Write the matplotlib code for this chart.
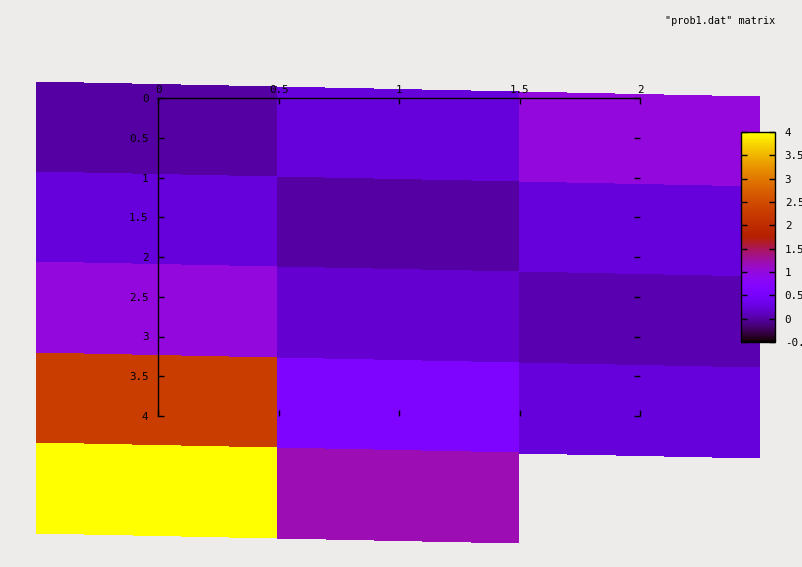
import numpy as np
import matplotlib
matplotlib.use("Agg")
import matplotlib.pyplot as plt
from matplotlib.colors import ListedColormap, Normalize

# ---- data ----
rows = [0, 1, 2, 3, 4]
cols = [0, 1, 2]
values = np.array([
    [0.0, 0.25, 1.0],
    [0.25, 0.0, 0.25],
    [1.0, 0.2, 0.05],
    [2.3, 0.6, 0.25],
    [4.0, 1.2, np.nan],
])
x_ticks = [0, 0.5, 1, 1.5, 2]
y_ticks = [0, 0.5, 1, 1.5, 2, 2.5, 3, 3.5, 4]
cb_ticks = [-0.5, 0, 0.5, 1, 1.5, 2, 2.5, 3, 3.5, 4]
cb_min, cb_max = -0.5, 4.0
key_label = '"prob1.dat" matrix'

# ---- style / layout ----
W, H = 802, 567
BG = "#edeceb"
FONT = "DejaVu Sans Mono"
FS = 7.8

# gnuplot default palette (rgbformulae 7,5,15)
t = np.linspace(0, 1, 256)
pal = np.stack([np.sqrt(t), t ** 3, np.clip(np.sin(2 * np.pi * t), 0, 1)], axis=1)
cmap = ListedColormap(pal)
norm = Normalize(cb_min, cb_max)

fig = plt.figure(figsize=(W / 100, H / 100), dpi=100, facecolor=BG)

# plot box in pixels
bx0, bx1, by0, by1 = 158, 640, 98, 416
ax = fig.add_axes([bx0 / W, 1 - by1 / H, (bx1 - bx0) / W, (by1 - by0) / H])
ax.set_facecolor("none")
ax.set_xlim(0, 2)
ax.set_ylim(4, 0)

# projected surface geometry (tilted view): pixel corners -> data coords
sx0, sy0 = 36.0, 82.0     # top-left corner of surface (px)
cw, rh, skew = 241.3, 90.2, 5.0   # cell width, row height, per-column drop (px)
ci = np.arange(len(cols) + 1)
ri = np.arange(len(rows) + 1)
CI, RI = np.meshgrid(ci, ri)
PX = sx0 + cw * CI
PY = sy0 + rh * RI + skew * CI
X = (PX - bx0) / (bx1 - bx0) * 2.0
Y = (PY - by0) / (by1 - by0) * 4.0
ax.pcolormesh(X, Y, np.ma.masked_invalid(values), cmap=cmap, norm=norm,
              shading="flat", clip_on=False, zorder=0, antialiased=False,
              edgecolors="none")

# axes border: top and left lines, ticks on all sides
for s in ["bottom", "right"]:
    ax.spines[s].set_visible(False)
for s in ["top", "left"]:
    ax.spines[s].set_color("black")
    ax.spines[s].set_linewidth(1.0)
ax.set_xticks(x_ticks)
ax.set_yticks(y_ticks)
ax.set_xticklabels([f"{v:g}" for v in x_ticks], fontfamily=FONT, fontsize=FS)
ax.set_yticklabels([f"{v:g}" for v in y_ticks], fontfamily=FONT, fontsize=FS)
ax.tick_params(axis="both", direction="in", length=4, width=1.0, color="black",
               top=True, bottom=True, left=True, right=True,
               labeltop=True, labelbottom=False, labelleft=True, labelright=False)
ax.tick_params(axis="x", pad=2.5)
ax.tick_params(axis="y", pad=7)
ax.set_axisbelow(False)

# colorbar
cx0, cx1, cy0, cy1 = 741, 775, 132, 342
cax = fig.add_axes([cx0 / W, 1 - cy1 / H, (cx1 - cx0) / W, (cy1 - cy0) / H])
sm = plt.cm.ScalarMappable(norm=norm, cmap=cmap)
cb = fig.colorbar(sm, cax=cax, ticks=cb_ticks)
cb.outline.set_edgecolor("black")
cb.outline.set_linewidth(1.0)
cb.ax.set_yticklabels([f"{v:g}" for v in cb_ticks], fontfamily=FONT, fontsize=FS)
cb.ax.tick_params(direction="in", length=4, width=1.0, left=True, right=True,
                  labelleft=False, labelright=True, pad=7)

# key text
fig.text(775 / W, 1 - 21 / H, key_label, ha="right", va="center",
         fontfamily=FONT, fontsize=7.3)

fig.savefig("out.png", dpi=100, facecolor=BG)
